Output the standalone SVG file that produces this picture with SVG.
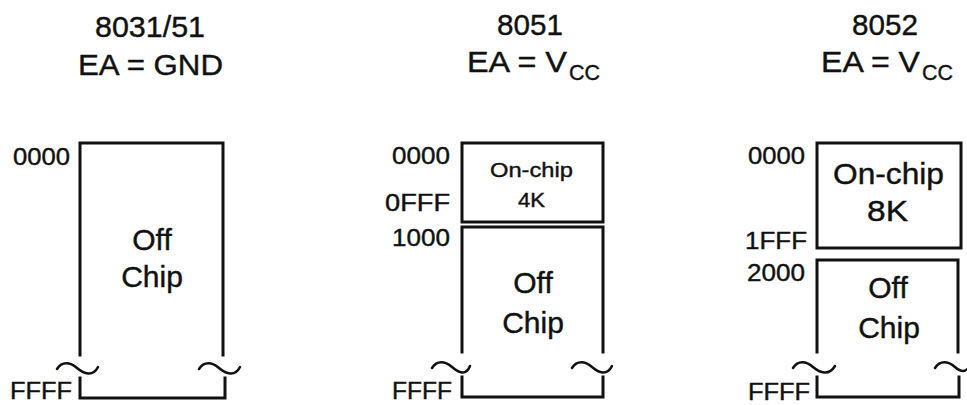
<svg xmlns="http://www.w3.org/2000/svg" width="967" height="405" viewBox="0 0 967 405">
<style>
text{font-family:"Liberation Sans",Arial,sans-serif;fill:#111;stroke:#111;stroke-width:0.4}
.h{font-size:30px}
.sub{font-size:22px}
.a{font-size:24px}
.big{font-size:30px}
.sm{font-size:21px}
.ln{fill:none;stroke:#111;stroke-width:3;stroke-linecap:square}
.tl{fill:none;stroke:#111;stroke-width:2.5;stroke-linecap:round}
</style>
<rect width="967" height="405" fill="#fff"/>
<g id="panel1">
  <text class="h" x="95" y="37" textLength="110" lengthAdjust="spacingAndGlyphs">8031/51</text>
  <text class="h" x="78" y="75" textLength="145" lengthAdjust="spacingAndGlyphs">EA = GND</text>
  <g id="p1-offchip">
    <path class="ln" d="M80,355 V143 H223 V355"/>
    <path class="ln" d="M80,378 V398 H225 V378"/>
    <text class="big" x="152" y="250" text-anchor="middle">Off</text>
    <text class="big" x="152" y="287" text-anchor="middle">Chip</text>
  </g>
  <path class="tl" d="M57,369 C62,361 70,362 77,368 S93,377 98,367"/>
  <path class="tl" d="M199,369 C204,361 212,362 219,368 S235,377 240,367"/>
  <text class="a" x="13" y="165" textLength="57" lengthAdjust="spacingAndGlyphs">0000</text>
  <text class="a" x="10" y="399" textLength="62" lengthAdjust="spacingAndGlyphs">FFFF</text>
</g>
<g id="panel2">
  <text class="h" x="497" y="35" textLength="66" lengthAdjust="spacingAndGlyphs">8051</text>
  <text class="h" x="467" y="72" textLength="100" lengthAdjust="spacingAndGlyphs">EA = V</text>
  <text class="sub" x="569" y="80" textLength="31" lengthAdjust="spacingAndGlyphs">CC</text>
  <g id="p2-onchip">
    <rect class="ln" x="462" y="143" width="141" height="79"/>
    <text class="sm" x="490" y="177" textLength="83" lengthAdjust="spacingAndGlyphs">On-chip</text>
    <text class="sm" x="518" y="207" textLength="27" lengthAdjust="spacingAndGlyphs">4K</text>
  </g>
  <g id="p2-offchip">
    <path class="ln" d="M462,352 V227 H603 V352"/>
    <path class="ln" d="M462,377 V397 H603 V377"/>
    <text class="big" x="533" y="293" text-anchor="middle">Off</text>
    <text class="big" x="533" y="333" text-anchor="middle">Chip</text>
  </g>
  <path class="tl" d="M432,368 C437,360 445,361 452,367 S466,376 470,366"/>
  <path class="tl" d="M572,368 C577,360 585,361 592,367 S607,376 612,366"/>
  <text class="a" x="392" y="164" textLength="58" lengthAdjust="spacingAndGlyphs">0000</text>
  <text class="a" x="385" y="211" textLength="65" lengthAdjust="spacingAndGlyphs">0FFF</text>
  <text class="a" x="392" y="246" textLength="58" lengthAdjust="spacingAndGlyphs">1000</text>
  <text class="a" x="392" y="399" textLength="60" lengthAdjust="spacingAndGlyphs">FFFF</text>
</g>
<g id="panel3">
  <text class="h" x="852" y="35" textLength="66" lengthAdjust="spacingAndGlyphs">8052</text>
  <text class="h" x="821" y="72" textLength="99" lengthAdjust="spacingAndGlyphs">EA = V</text>
  <text class="sub" x="922" y="80" textLength="31" lengthAdjust="spacingAndGlyphs">CC</text>
  <g id="p3-onchip">
    <rect class="ln" x="817" y="143" width="144" height="105"/>
    <text class="big" x="833" y="184" textLength="111" lengthAdjust="spacingAndGlyphs">On-chip</text>
    <text class="big" x="867" y="221" textLength="41" lengthAdjust="spacingAndGlyphs">8K</text>
  </g>
  <g id="p3-offchip">
    <path class="ln" d="M817,352 V260 H958 V352"/>
    <path class="ln" d="M817,377 V397 H959 V377"/>
    <text class="big" x="888" y="298" text-anchor="middle">Off</text>
    <text class="big" x="889" y="338" text-anchor="middle">Chip</text>
  </g>
  <path class="tl" d="M793,368 C798,360 806,361 813,367 S829,376 835,366"/>
  <path class="tl" d="M935,368 C940,360 948,361 955,367 S966,372 970,366"/>
  <text class="a" x="748" y="164" textLength="57" lengthAdjust="spacingAndGlyphs">0000</text>
  <text class="a" x="745" y="249" textLength="62" lengthAdjust="spacingAndGlyphs">1FFF</text>
  <text class="a" x="747" y="281" textLength="58" lengthAdjust="spacingAndGlyphs">2000</text>
  <text class="a" x="748" y="400" textLength="62" lengthAdjust="spacingAndGlyphs">FFFF</text>
</g>
</svg>
